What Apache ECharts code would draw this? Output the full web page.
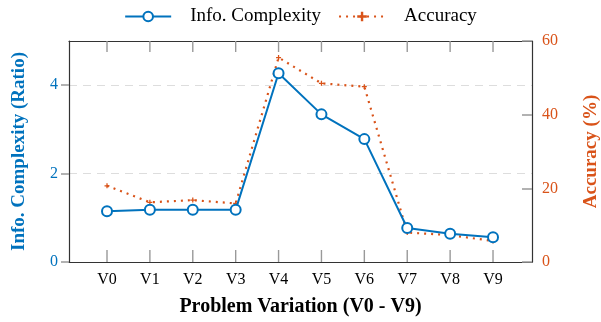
<!DOCTYPE html>
<html>
<head>
<meta charset="utf-8">
<script src="https://cdn.jsdelivr.net/npm/echarts@6/dist/echarts.min.js"></script>
<style>
  html, body { margin: 0; padding: 0; background: #fff; }
  #chart { width: 601px; height: 322px; }
</style>
</head>
<body>
<div id="chart"></div>
<script>
const categories = ['V0', 'V1', 'V2', 'V3', 'V4', 'V5', 'V6', 'V7', 'V8', 'V9']
const infoComplexity = [1.15, 1.18, 1.18, 1.18, 4.27, 3.34, 2.78, 0.77, 0.64, 0.56]
const accuracy = [20.7, 16.2, 16.8, 15.9, 55.5, 48.5, 47.6, 8.0, 7.3, 5.7]
const leftTicks = [0, 2, 4]
const rightTicks = [0, 20, 40, 60]

const blue = '#0072BD'
const red = '#D95319'
const font = '"Liberation Serif", "DejaVu Serif", serif'
const idx = categories.map((_, i) => i)

const chart = echarts.init(document.getElementById('chart'))

const frame = { show: true, onZero: false, lineStyle: { color: '#333', width: 1.2 } }
const tickStyle = { color: '#999999', width: 1.5 }

// tick marks on the top and bottom frame at each category
function renderTicks(params, api) {
  const cs = params.coordSys
  const x = api.coord([api.value(0), 0])[0]
  const bottom = cs.y + cs.height
  const style = { stroke: '#999', lineWidth: 1.4 }
  return {
    type: 'group',
    children: [
      { type: 'line', shape: { x1: x, y1: bottom, x2: x, y2: bottom - 12 }, style },
      { type: 'line', shape: { x1: x, y1: cs.y, x2: x, y2: cs.y + 11 }, style }
    ]
  }
}

const option = {
  animation: false,
  textStyle: { fontFamily: font },
  legend: {
    top: 2,
    left: 'center',
    itemWidth: 46,
    itemHeight: 12,
    itemGap: 17,
    textStyle: { fontFamily: font, fontSize: 19, color: '#000', padding: [0, 0, 0, 14] },
    data: ['Info. Complexity', 'Accuracy']
  },
  grid: { left: 69, right: 69, top: 41, bottom: 60, containLabel: false, outerBoundsMode: 'none' },
  xAxis: [
    {
      type: 'value',
      min: -0.886,
      max: 9.909,
      name: 'Problem Variation (V0 - V9)',
      nameLocation: 'middle',
      nameGap: 35,
      nameTextStyle: { fontFamily: font, fontSize: 20, fontWeight: 'bold', color: '#000' },
      axisLine: frame,
      axisTick: { show: false },
      axisLabel: {
        customValues: idx,
        fontFamily: font, fontSize: 16, color: '#000', margin: 10,
        formatter: v => categories[Math.round(v)]
      },
      splitLine: { show: false }
    },
    {
      type: 'value',
      position: 'top',
      min: -0.886,
      max: 9.909,
      axisLine: frame,
      axisTick: { show: false },
      axisLabel: { show: false },
      splitLine: { show: false }
    }
  ],
  yAxis: [
    {
      type: 'value',
      min: 0,
      max: 5,
      name: 'Info. Complexity (Ratio)',
      nameLocation: 'middle',
      nameGap: 40,
      nameTextStyle: { fontFamily: font, fontSize: 19, fontWeight: 'bold', color: blue },
      axisLine: frame,
      axisTick: { show: true, inside: false, length: 8, customValues: leftTicks, lineStyle: tickStyle },
      axisLabel: { customValues: leftTicks, fontFamily: font, fontSize: 16, color: blue, margin: 11 },
      splitLine: { show: true, lineStyle: { color: '#ddd', type: [8, 6], width: 1 } }
    },
    {
      type: 'value',
      min: 0,
      max: 60,
      interval: 20,
      position: 'right',
      name: 'Accuracy (%)',
      nameLocation: 'middle',
      nameGap: 50,
      nameRotate: 90,
      nameTextStyle: { fontFamily: font, fontSize: 19, fontWeight: 'bold', color: red },
      axisLine: frame,
      axisTick: { show: true, inside: true, length: 10, customValues: rightTicks, lineStyle: tickStyle },
      axisLabel: { customValues: rightTicks, fontFamily: font, fontSize: 16, color: red, margin: 10 },
      splitLine: { show: false }
    }
  ],
  series: [
    {
      name: 'ticks',
      type: 'custom',
      xAxisIndex: 0,
      yAxisIndex: 0,
      silent: true,
      clip: false,
      renderItem: renderTicks,
      data: idx.map(i => [i, 0]),
      z: 1
    },
    {
      name: 'Info. Complexity',
      type: 'line',
      xAxisIndex: 0,
      yAxisIndex: 0,
      data: infoComplexity.map((v, i) => [i, v]),
      lineStyle: { color: blue, width: 2 },
      symbol: 'circle',
      symbolSize: 10,
      itemStyle: { color: '#fff', borderColor: blue, borderWidth: 2 },
      z: 3
    },
    {
      name: 'Accuracy',
      type: 'line',
      xAxisIndex: 0,
      yAxisIndex: 1,
      data: accuracy.map((v, i) => [i, v]),
      lineStyle: { color: red, width: 2.2, type: [2, 5] },
      symbol: 'path://M3,0L5,0L5,3L8,3L8,5L5,5L5,8L3,8L3,5L0,5L0,3L3,3Z',
      symbolSize: 5,
      itemStyle: { color: red, borderWidth: 0 },
      z: 2
    }
  ]
}

chart.setOption(option)
</script>
</body>
</html>
